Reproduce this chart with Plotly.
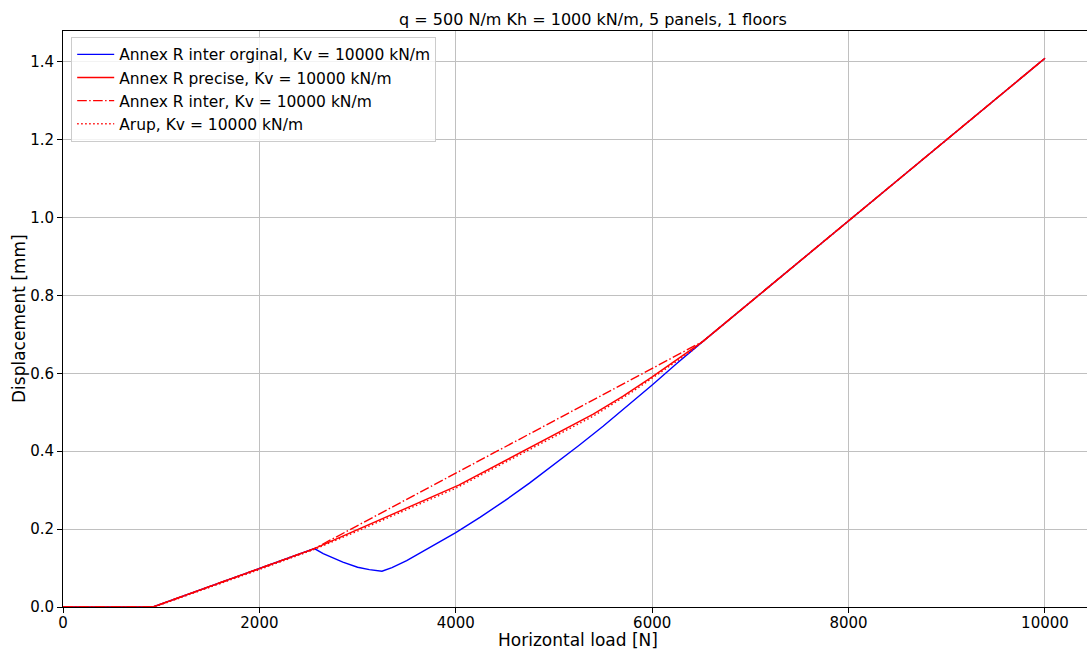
import plotly.graph_objects as go

# Horizontal load [N] vs displacement [mm] for each method
load_orig = [0, 916, 2000, 2560, 2650, 2750, 2850, 3000, 3120, 3248, 3350, 3500, 3650, 3800,
             4000, 4250, 4500, 4750, 5000, 5250, 5500, 5750, 6000, 6250, 6517, 10000]
disp_orig = [0.0, 0.0, 0.0989, 0.150, 0.137, 0.125, 0.115, 0.102, 0.096, 0.092, 0.101, 0.119, 0.140, 0.163,
             0.191, 0.231, 0.273, 0.318, 0.365, 0.414, 0.464, 0.516, 0.570, 0.625, 0.682, 1.409]

load_precise = [0, 916, 2560, 4030, 5400, 5700, 6000, 6300, 6517, 10000]
disp_precise = [0.0, 0.0, 0.150, 0.313, 0.495, 0.541, 0.591, 0.643, 0.682, 1.409]

load_inter = [0, 916, 2560, 6470, 6517, 10000]
disp_inter = [0.0, 0.0, 0.150, 0.677, 0.682, 1.409]

load_arup = [0, 930, 2000, 2560, 3000, 3500, 4000, 4500, 5000, 5400, 5800, 6100, 6400, 6517, 10000]
disp_arup = [0.0, 0.0, 0.096, 0.148, 0.195, 0.249, 0.305, 0.371, 0.437, 0.490, 0.553, 0.604, 0.657, 0.682, 1.409]

x_ticks = [0, 2000, 4000, 6000, 8000, 10000]
y_ticks = [0.0, 0.2, 0.4, 0.6, 0.8, 1.0, 1.2, 1.4]

FONT = "DejaVu Sans"

fig = go.Figure()
fig.add_trace(go.Scatter(x=load_orig, y=disp_orig, mode="lines",
                         name="Annex R inter orginal, Kv = 10000 kN/m",
                         line=dict(color="#0000ff", width=1.4)))
fig.add_trace(go.Scatter(x=load_precise, y=disp_precise, mode="lines",
                         name="Annex R precise, Kv = 10000 kN/m",
                         line=dict(color="#ff0000", width=1.4)))
fig.add_trace(go.Scatter(x=load_inter, y=disp_inter, mode="lines",
                         name="Annex R inter, Kv = 10000 kN/m",
                         line=dict(color="#ff0000", width=1.4, dash="9.6px,2.4px,1.5px,2.4px")))
fig.add_trace(go.Scatter(x=load_arup, y=disp_arup, mode="lines",
                         name="Arup, Kv = 10000 kN/m",
                         line=dict(color="#ff0000", width=1.4, dash="1.5px,2.5px")))

fig.update_layout(
    width=1087, height=652,
    margin=dict(l=63, r=0, t=31, b=45),
    paper_bgcolor="white", plot_bgcolor="white",
    font=dict(family=FONT, size=15, color="black"),
    title=dict(text="q = 500 N/m Kh = 1000 kN/m, 5 panels, 1 floors",
               xref="container", x=593 / 1087, xanchor="center",
               yref="container", y=1 - 19 / 652, yanchor="middle",
               font=dict(family=FONT, size=16, color="black")),
    legend=dict(x=0.008, y=0.99, xanchor="left", yanchor="top",
                bgcolor="rgba(255,255,255,0.8)", bordercolor="#cccccc", borderwidth=1,
                font=dict(family=FONT, size=15.5, color="black"),
                tracegroupgap=0, itemwidth=37),
    showlegend=True,
    annotations=[
        dict(text="Horizontal load [N]", xref="paper", yref="paper", x=0.503, y=0,
             xanchor="center", yanchor="bottom", yshift=-44, showarrow=False, borderpad=0,
             font=dict(family=FONT, size=17, color="black")),
        dict(text="Displacement [mm]", xref="paper", yref="paper", x=0, y=0.5,
             xanchor="center", yanchor="middle", xshift=-44, textangle=-90, showarrow=False,
             font=dict(family=FONT, size=17, color="black")),
    ],
)

fig.update_xaxes(range=[0, 10428], tickvals=x_ticks, ticktext=[str(v) for v in x_ticks],
                 showgrid=True, gridcolor="#c0c0c0", gridwidth=0.8, zeroline=False,
                 showline=True, linecolor="black", linewidth=1, mirror=True,
                 ticks="outside", ticklen=5, tickcolor="black", ticklabelstandoff=-3,
                 tickfont=dict(family=FONT, size=15))
fig.update_yaxes(range=[0, 1.479], tickvals=y_ticks, ticktext=[f"{v:.1f}" for v in y_ticks],
                 showgrid=True, gridcolor="#c0c0c0", gridwidth=0.8, zeroline=False,
                 showline=True, linecolor="black", linewidth=1,
                 ticks="outside", ticklen=5, tickcolor="black",
                 tickfont=dict(family=FONT, size=15))

fig.write_html("out.html")
